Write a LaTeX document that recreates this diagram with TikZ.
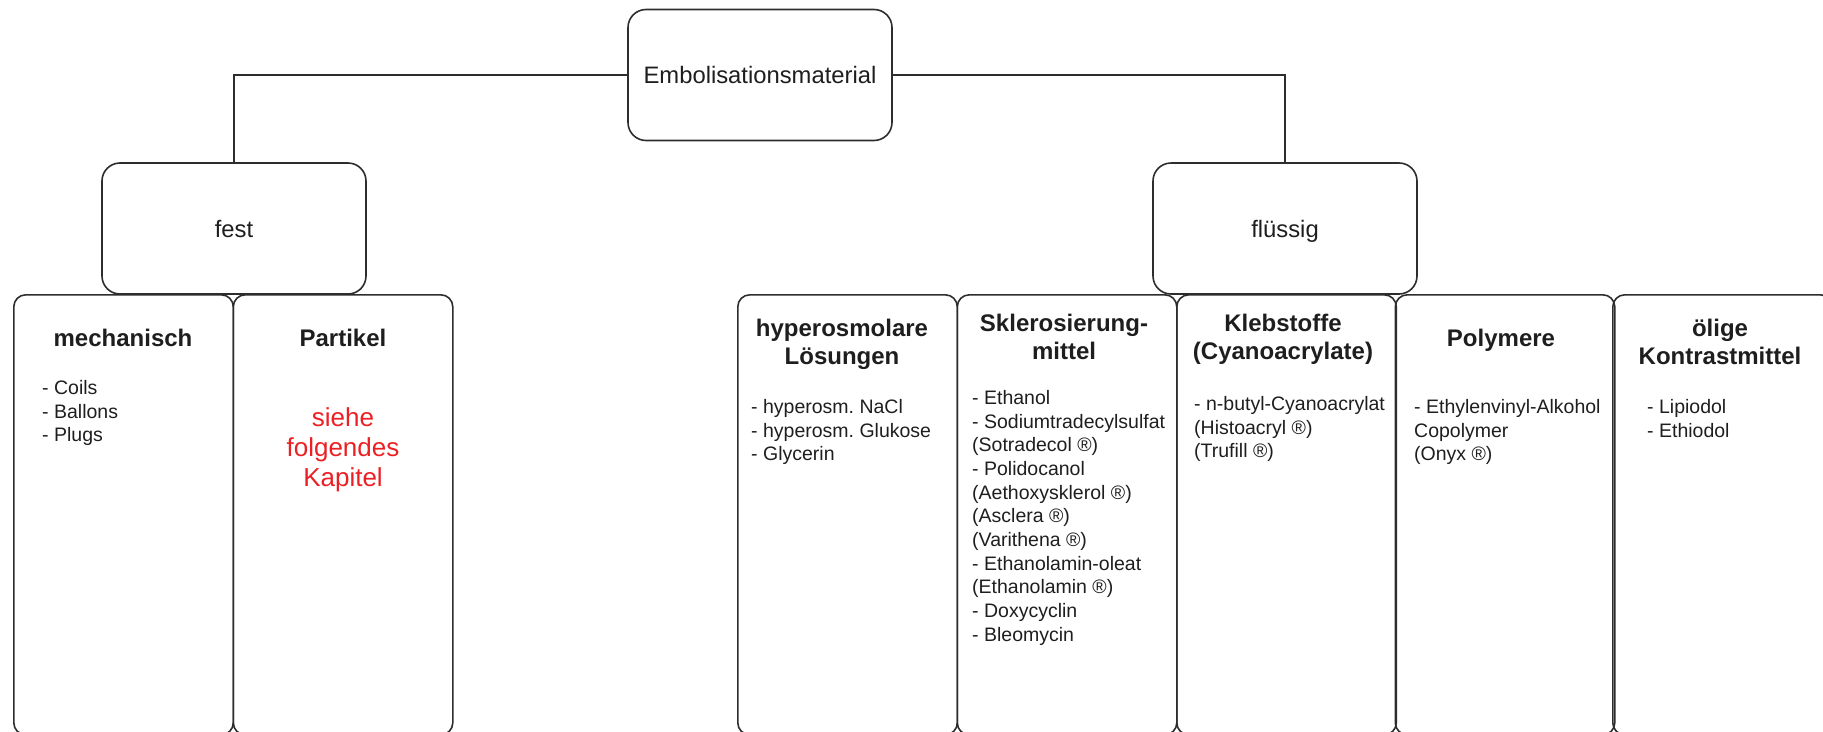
\documentclass[tikz,border=0pt]{standalone}
\usepackage{fontspec}
\setmainfont{Liberation Sans}
\frenchspacing
\definecolor{linec}{RGB}{45,45,45}
\definecolor{textc}{RGB}{30,30,30}
\definecolor{redtext}{RGB}{236,32,36}
\begin{document}
\begin{tikzpicture}[x=1pt,y=-1pt]
\tikzset{
  topbox/.style={draw=linec, line width=1.6pt, rounded corners=18pt, minimum width=264pt, minimum height=131pt, inner sep=0pt, font=\fontsize{23.8}{28}\selectfont, text=textc, text depth=0pt},
  catbox/.style={draw=linec, line width=1.6pt, rounded corners=12pt, minimum width=219.5pt, minimum height=440pt, inner sep=0pt, anchor=north west},
  cattitle/.style={anchor=north, align=center, inner sep=0pt, font=\bfseries\fontsize{24}{28}\selectfont, text=textc},
  catlist/.style={anchor=north west, align=left, inner sep=0pt, font=\fontsize{19.5}{23.7}\selectfont, text=textc},
  redlabel/.style={anchor=north, align=center, inner sep=0pt, font=\fontsize{26}{30}\selectfont, text=redtext},
  conn/.style={draw=linec, line width=1.6pt}
}
\useasboundingbox (0,0) rectangle (1823,731);
\clip (0,0) rectangle (1823,731);

% top level boxes
\node[topbox] (emb) at (760,75) {Embolisationsmaterial};
\node[topbox] (fest) at (234,228.5) {fest};
\node[topbox] (fluessig) at (1285,228.5) {flüssig};

% connectors
\draw[conn] (emb.west) -| (fest.north);
\draw[conn] (emb.east) -| (fluessig.north);

% category boxes
\node[catbox] (mech) at (13,294) {};
\node[catbox] (part) at (232.5,294) {};
\node[catbox] (hyper) at (737,294) {};
\node[catbox] (sklero) at (956.5,294) {};
\node[catbox] (kleb) at (1176,294) {};
\node[catbox] (poly) at (1394.5,294) {};
\node[catbox] (oel) at (1612,294) {};

% titles
\node[cattitle] (tmech) at (123,329) {mechanisch};
\node[cattitle] (tpart) at (343,329) {Partikel};
\node[cattitle] (thyper) at (842,319) {hyperosmolare\\Lösungen};
\node[cattitle] (tsklero) at (1064,314) {Sklerosierung-\\mittel};
\node[cattitle] (tkleb) at (1283,314) {Klebstoffe\\(Cyanoacrylate)};
\node[cattitle] (tpoly) at (1501,329) {Polymere};
\node[cattitle] (toel) at (1720,319) {ölige\\Kontrastmittel};

% lists
\node[catlist] (lmech) at (42,380) {- Coils\\- Ballons\\- Plugs};
\node[redlabel] (lpart) at (343,407) {siehe\\folgendes\\Kapitel};
\node[catlist] (lhyper) at (751,399) {- hyperosm. NaCl\\- hyperosm. Glukose\\- Glycerin};
\node[catlist] (lsklero) at (972,390) {- Ethanol\\- Sodiumtradecylsulfat\\(Sotradecol ®)\\- Polidocanol\\(Aethoxysklerol ®)\\(Asclera ®)\\(Varithena ®)\\- Ethanolamin-oleat\\(Ethanolamin ®)\\- Doxycyclin\\- Bleomycin};
\node[catlist] (lkleb) at (1194,396) {- n-butyl-Cyanoacrylat\\(Histoacryl ®)\\(Trufill ®)};
\node[catlist] (lpoly) at (1414,399) {- Ethylenvinyl-Alkohol\\Copolymer\\(Onyx ®)};
\node[catlist] (loel) at (1647,399) {- Lipiodol\\- Ethiodol};
\end{tikzpicture}
\end{document}
